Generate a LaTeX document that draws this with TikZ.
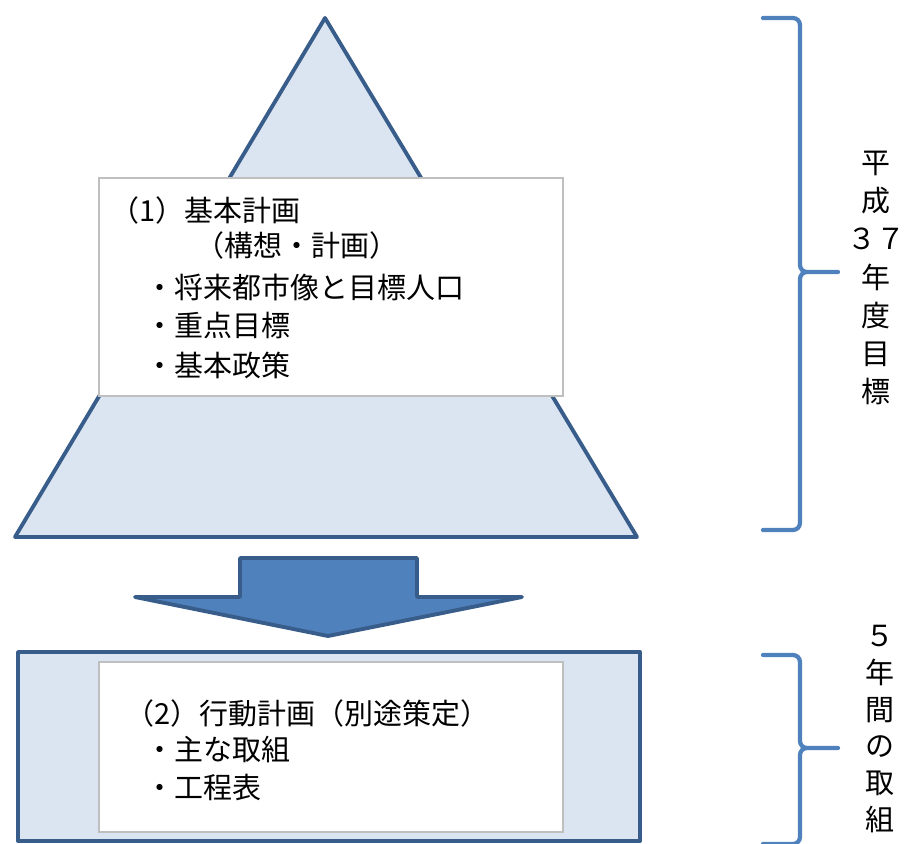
\documentclass[tikz,border=0pt]{standalone}
\usepackage{fontspec}
\setmainfont{Noto Sans CJK JP}
\definecolor{paleblue}{RGB}{219,229,241}
\definecolor{edgeblue}{RGB}{56,93,138}
\definecolor{midblue}{RGB}{79,129,189}
\definecolor{boxgray}{RGB}{191,191,191}
\begin{document}
\begin{tikzpicture}[x=0.02cm, y=-0.02cm,
    plate/.style = {draw=edgeblue, fill=paleblue, line width=2.2pt, line join=round},
    whitebox/.style = {draw=boxgray, fill=white, line width=0.8pt, minimum width=9.28cm},
    txt/.style = {anchor=west, inner sep=0pt, font=\fontsize{16.5}{20}\selectfont},
    side/.style = {align=center, inner sep=0pt, font=\fontsize{16.5}{21.8}\selectfont},
    curly/.style = {draw=midblue, line width=2.4pt, rounded corners=4pt, line cap=round}]
    \useasboundingbox (0,0) rectangle (907,844);

    % pyramid and top box
    \draw[plate] (325,18) -- (637,537) -- (15,537) -- cycle;
    \node[whitebox, minimum height=4.36cm] (plan) at (331,287) {};
    \node[txt] (p1) at (110,210) {（1）基本計画};
    \node[txt] (p2) at (195,245) {（構想・計画）};
    \node[txt] (p3) at (145,287) {・将来都市像と目標人口};
    \node[txt] (p4) at (145,326) {・重点目標};
    \node[txt] (p5) at (145,365) {・基本政策};

    % arrow
    \draw[plate, fill=midblue] (240,558) -- (417,558) -- (417,597) -- (522,597)
        -- (328,636) -- (135,597) -- (240,597) -- cycle;

    % bottom frame and box
    \draw[plate] (18,652) rectangle (640,841);
    \node[whitebox, minimum height=3.4cm] (act) at (331,747) {};
    \node[txt] (a1) at (125,713) {（2）行動計画（別途策定）};
    \node[txt] (a2) at (145,750) {・主な取組};
    \node[txt] (a3) at (145,787) {・工程表};

    % braces
    \draw[curly] (763,18) -- (800,18) -- (800,272) -- (838,272)
        (838,272) -- (800,272) -- (800,530) -- (763,530);
    \draw[curly] (763,655) -- (800,655) -- (800,748) -- (838,748)
        (838,748) -- (800,748) -- (800,844) -- (763,844);

    \node[side] (goal) at (876,278) {平\\成\\３７\\年\\度\\目\\標};
    \node[side, font=\fontsize{16.5}{21}\selectfont] (span) at (880,729) {５\\年\\間\\の\\取\\組};
\end{tikzpicture}
\end{document}
